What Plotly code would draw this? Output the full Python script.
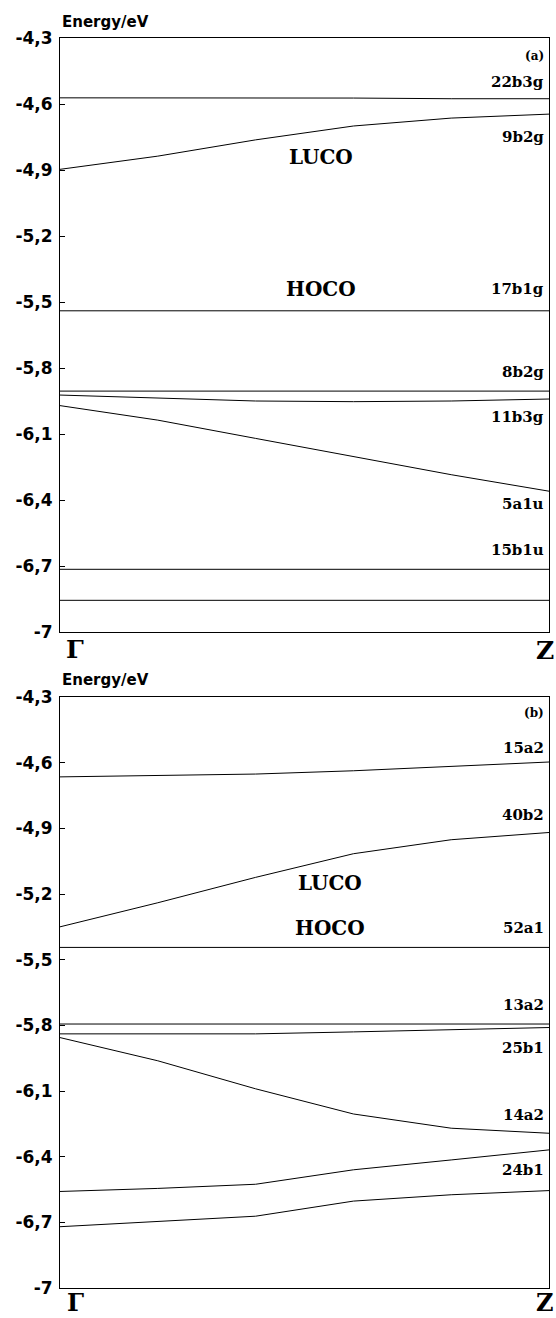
import plotly.graph_objects as go

# ---------------- data ----------------
k_points = [0.0, 0.2, 0.4, 0.6, 0.8, 1.0]   # fraction of path Γ -> Z

# panel (a)
a_22b3g = [-4.572, -4.572, -4.572, -4.573, -4.576, -4.576]
a_9b2g = [-4.897, -4.837, -4.763, -4.700, -4.664, -4.646]
a_17b1g = [-5.540, -5.540, -5.540, -5.540, -5.540, -5.540]
a_8b2g = [-5.905, -5.905, -5.905, -5.905, -5.905, -5.905]
a_11b3g = [-5.923, -5.937, -5.950, -5.953, -5.950, -5.941]
a_5a1u = [-5.971, -6.037, -6.120, -6.204, -6.285, -6.360]
a_15b1u = [-6.715, -6.715, -6.715, -6.715, -6.715, -6.715]
a_low = [-6.856, -6.856, -6.856, -6.856, -6.856, -6.856]

# panel (b)
b_15a2 = [-4.665, -4.660, -4.652, -4.637, -4.617, -4.597]
b_40b2 = [-5.350, -5.240, -5.124, -5.016, -4.952, -4.919]
b_52a1 = [-5.444, -5.444, -5.444, -5.444, -5.444, -5.444]
b_13a2 = [-5.794, -5.794, -5.794, -5.794, -5.794, -5.794]
b_25b1 = [-5.839, -5.839, -5.839, -5.830, -5.820, -5.810]
b_14a2 = [-5.856, -5.962, -6.090, -6.205, -6.270, -6.293]
b_24b1 = [-6.559, -6.545, -6.526, -6.460, -6.415, -6.369]
b_low = [-6.720, -6.696, -6.672, -6.603, -6.574, -6.555]

tick_vals = [-7.0, -6.7, -6.4, -6.1, -5.8, -5.5, -5.2, -4.9, -4.6, -4.3]
tick_text = ["-7", "-6,7", "-6,4", "-6,1", "-5,8", "-5,5", "-5,2", "-4,9", "-4,6", "-4,3"]

band_labels_a = ["22b3g", "9b2g", "17b1g", "8b2g", "11b3g", "5a1u", "15b1u"]
band_labels_b = ["15a2", "40b2", "52a1", "13a2", "25b1", "14a2", "24b1"]
k_labels = ["Γ", "Z"]

# label placement (style / layout)
label_y_a = [-4.501, -4.748, -5.442, -5.817, -6.024, -6.419, -6.628]
label_y_b = [-4.531, -4.840, -5.357, -5.707, -5.905, -6.209, -6.460]

bands_a = [a_22b3g, a_9b2g, a_17b1g, a_8b2g, a_11b3g, a_5a1u, a_15b1u, a_low]
bands_b = [b_15a2, b_40b2, b_52a1, b_13a2, b_25b1, b_14a2, b_24b1, b_low]

fig = go.Figure()
for e in bands_a:
    fig.add_trace(go.Scatter(x=k_points, y=e, mode="lines", xaxis="x", yaxis="y",
                             line=dict(color="black", width=1), showlegend=False, hoverinfo="skip"))
for e in bands_b:
    fig.add_trace(go.Scatter(x=k_points, y=e, mode="lines", xaxis="x2", yaxis="y2",
                             line=dict(color="black", width=1), showlegend=False, hoverinfo="skip"))

W, H = 556, 1318
L, R, T, B = 60, 7, 38, 30
plot_h = H - T - B
top_dom = [(H - B - 632) / plot_h, 1.0]
bot_dom = [0.0, (H - B - 697) / plot_h]

ax_common = dict(range=[0, 1], showgrid=False, zeroline=False, showticklabels=False,
                 showline=True, linecolor="black", linewidth=1, mirror=True, ticks="")
ay_common = dict(range=[-7, -4.3], showgrid=False, zeroline=False, showline=True,
                 linecolor="black", linewidth=1, mirror=True, ticks="inside", ticklen=5,
                 tickcolor="black", tickvals=tick_vals,
                 ticktext=[f"<b>{t}</b>" for t in tick_text],
                 tickfont=dict(family="DejaVu Sans", size=17, color="black"),
                 ticklabelstandoff=3)

ann = []
serif_b = "DejaVu Serif"
def lab(text, x, y, xr, yr, size, xanchor="right", bold=True, family=serif_b):
    t = f"<b>{text}</b>" if bold else text
    ann.append(dict(text=t, x=x, y=y, xref=xr, yref=yr, showarrow=False,
                    xanchor=xanchor, yanchor="middle",
                    font=dict(family=family, size=size, color="black")))

for name, y in zip(band_labels_a, label_y_a):
    lab(name, 0.994, y, "x", "y", 15)
for name, y in zip(band_labels_b, label_y_b):
    lab(name, 0.994, y, "x2", "y2", 15)
lab("(a)", 0.994, -4.38, "x", "y", 12)
lab("(b)", 0.994, -4.373, "x2", "y2", 12)
lab("LUCO", 0.534, -4.839, "x", "y", 20, xanchor="center")
lab("HOCO", 0.534, -5.442, "x", "y", 20, xanchor="center")
lab("LUCO", 0.552, -5.149, "x2", "y2", 20, xanchor="center")
lab("HOCO", 0.552, -5.357, "x2", "y2", 20, xanchor="center")

def pp_y(py):
    return (H - B - py) / plot_h
def pp_x(px):
    return (px - L) / (W - L - R)

lab(k_labels[0], pp_x(75), pp_y(649), "paper", "paper", 25, xanchor="center")
lab(k_labels[1], pp_x(545), pp_y(650), "paper", "paper", 25, xanchor="center")
lab(k_labels[0], pp_x(75), pp_y(1302), "paper", "paper", 24, xanchor="center")
lab(k_labels[1], pp_x(545), pp_y(1302), "paper", "paper", 24, xanchor="center")

for yc in (22, 680):
    lab("Energy/eV", 0.0, pp_y(yc), "paper", "paper", 15, xanchor="left", bold=True,
        family="DejaVu Sans")

fig.update_layout(
    width=W, height=H, margin=dict(l=L, r=R, t=T, b=B, pad=0),
    paper_bgcolor="white", plot_bgcolor="white",
    xaxis=dict(ax_common, domain=[0, 1], anchor="y"),
    yaxis=dict(ay_common, domain=top_dom, anchor="x"),
    xaxis2=dict(ax_common, domain=[0, 1], anchor="y2"),
    yaxis2=dict(ay_common, domain=bot_dom, anchor="x2"),
    annotations=ann, showlegend=False,
)

fig.write_html("out.html")
